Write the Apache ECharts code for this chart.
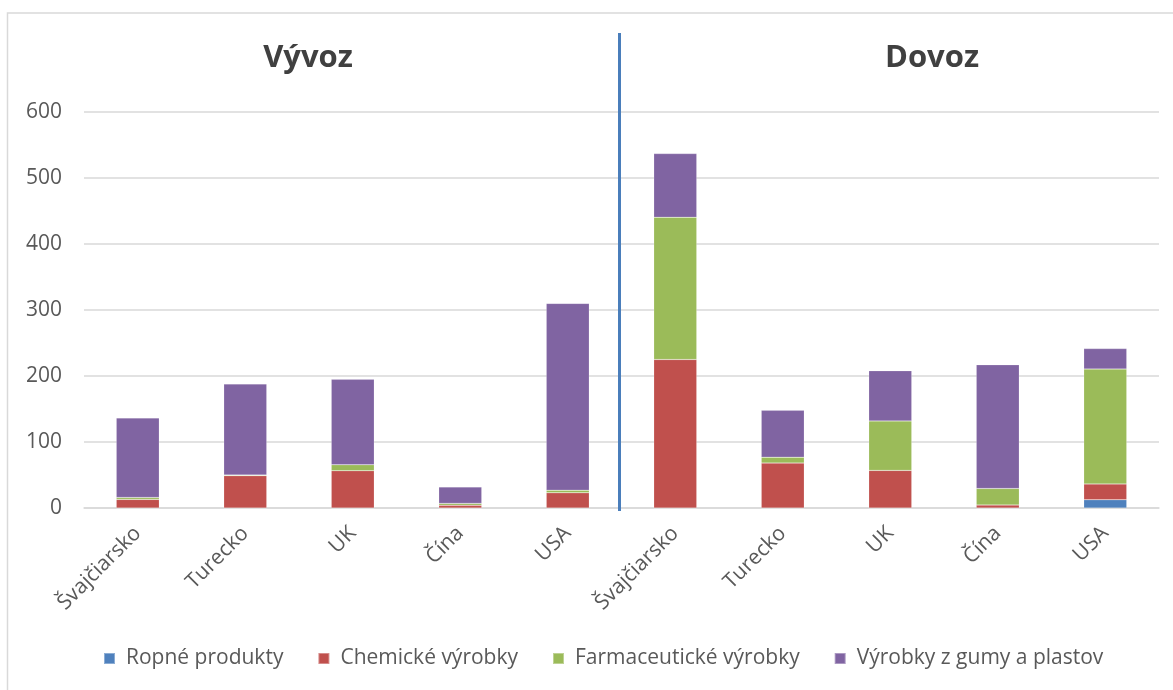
<!DOCTYPE html>
<html>
<head>
<meta charset="utf-8">
<script src="https://cdn.jsdelivr.net/npm/echarts@6/dist/echarts.min.js"></script>
<style>html,body{margin:0;padding:0;background:#fff}#c{width:1173px;height:690px}</style>
</head>
<body>
<div id="c"></div>
<script>
// Categories: group | country
const groups = ['Vývoz', 'Dovoz'];
const countries = ['Švajčiarsko', 'Turecko', 'UK', 'Čína', 'USA'];
const seriesNames = ['Ropné produkty', 'Chemické výrobky', 'Farmaceutické výrobky', 'Výrobky z gumy a plastov'];
// values: Vývoz (5) then Dovoz (5)
const ropne = [0, 0, 0, 0, 0, 0, 0, 0, 0, 12.5];
const chemicke = [13, 49, 56.5, 4, 23, 225, 68, 57, 4.5, 24];
const farma = [3, 1, 9, 3, 4, 215.5, 9, 75, 25, 174];
const guma = [120.5, 138, 129.5, 25, 283, 96.5, 71, 76, 187.5, 31];
const yTicks = [0, 100, 200, 300, 400, 500, 600];

const categories = [];
groups.forEach(g => countries.forEach(c => categories.push(g + '|' + c)));

const colors = ['#4F81BD', '#C0504D', '#9BBB59', '#8064A2'];
const font = '"Open Sans", "DejaVu Sans", sans-serif';
const allData = [ropne, chemicke, farma, guma];

const chart = echarts.init(document.getElementById('c'));
chart.setOption({
  animation: false,
  color: colors,
  textStyle: { fontFamily: font },
  grid: { left: 84, right: 14, top: 112, bottom: 182 },
  xAxis: {
    type: 'category',
    data: categories,
    axisLine: { show: true, lineStyle: { color: '#D9D9D9', width: 1.5 } },
    axisTick: { show: false },
    axisLabel: {
      rotate: 45, interval: 0, margin: 22,
      fontSize: 21, color: '#595959', fontFamily: font,
      formatter: v => v.split('|')[1]
    }
  },
  yAxis: {
    type: 'value', min: yTicks[0], max: yTicks[yTicks.length - 1], interval: 100,
    axisLine: { show: false }, axisTick: { show: false },
    splitLine: { lineStyle: { color: '#D9D9D9', width: 1.5 } },
    axisLabel: { fontSize: 21, color: '#595959', margin: 22, fontFamily: font }
  },
  legend: {
    data: seriesNames,
    bottom: 16, left: 98,
    itemWidth: 11, itemHeight: 11, itemGap: 34,
    icon: 'rect',
    textStyle: { fontSize: 21, color: '#595959', fontFamily: font, padding: [0, 0, 0, 6] }
  },
  series: seriesNames.map((n, i) => ({
    name: n, type: 'bar', stack: 'all', barWidth: 43,
    data: allData[i],
    itemStyle: { color: colors[i], borderColor: 'rgba(255,255,255,0.35)', borderWidth: 0.5 }
  })),
  graphic: [
    { type: 'rect', shape: { x: 7.5, y: 13, width: 1200, height: 700 }, style: { fill: null, stroke: '#D9D9D9', lineWidth: 1.5 }, silent: true, z: -1 },
    { type: 'line', shape: { x1: 619.5, y1: 33, x2: 619.5, y2: 511 }, style: { stroke: '#4A7EBB', lineWidth: 3 }, z: 10 },
    { type: 'text', x: 308, y: 58, style: { text: groups[0], font: 'bold 31px ' + font, fill: '#404040', textAlign: 'center', textVerticalAlign: 'middle' } },
    { type: 'text', x: 932, y: 58, style: { text: groups[1], font: 'bold 31px ' + font, fill: '#404040', textAlign: 'center', textVerticalAlign: 'middle' } }
  ]
});
</script>
</body>
</html>
